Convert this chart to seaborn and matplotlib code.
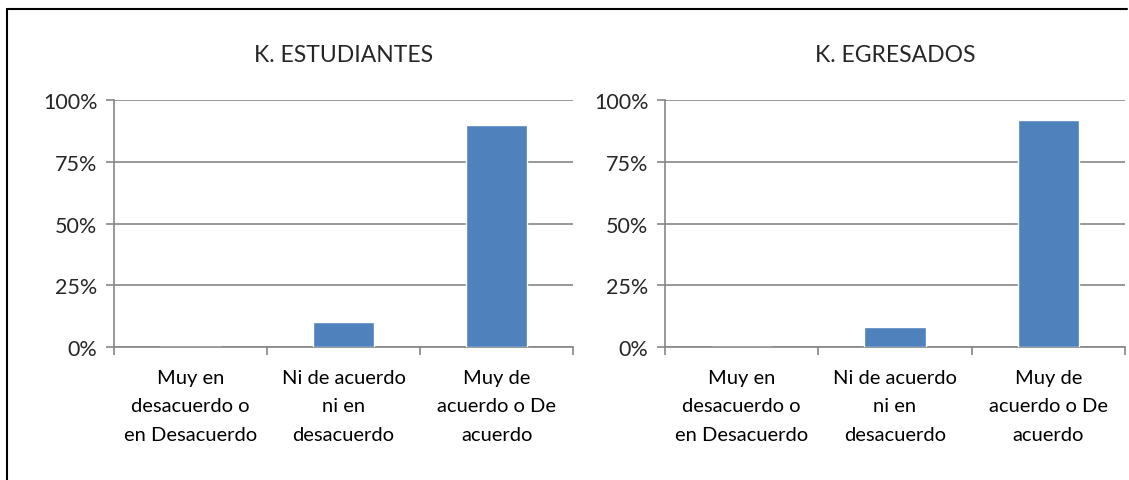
import numpy as np
import matplotlib.pyplot as plt
import seaborn as sns
import pandas as pd
from matplotlib.lines import Line2D
from matplotlib.ticker import PercentFormatter

categorias = ['Muy en\ndesacuerdo o\nen Desacuerdo', 'Ni de acuerdo\nni en\ndesacuerdo', 'Muy de\nacuerdo o De\nacuerdo']
estudiantes = [0, 10, 90]
egresados = [0, 8, 92]
titulos = ['K. ESTUDIANTES', 'K. EGRESADOS']

sns.set_style('white')
plt.rcParams['font.family'] = ['Lato', 'DejaVu Sans']

gris = '#868686'
azul = '#4F81BD'

fig = plt.figure(figsize=(11.29, 4.81), dpi=100)
ax1 = fig.add_axes([0.101, 0.2765, 0.4066, 0.5135])
ax2 = fig.add_axes([0.589, 0.2765, 0.4074, 0.5135])

for ax, valores, titulo in zip([ax1, ax2], [estudiantes, egresados], titulos):
    df = pd.DataFrame({'cat': categorias, 'val': valores})
    sns.barplot(data=df, x='cat', y='val', color=azul, width=0.4, saturation=1, ax=ax, zorder=3)
    ax.set_xlim(-0.5, 2.5)
    ax.set_ylim(0, 100)
    ax.set_yticks([0, 25, 50, 75, 100])
    ax.yaxis.set_major_formatter(PercentFormatter(decimals=0))
    ax.grid(axis='y', color=gris, linewidth=1.2, zorder=0)
    ax.set_xticks(np.arange(-0.5, 3, 1), minor=True)
    ax.tick_params(axis='x', which='major', length=0, pad=16, labelsize=14.5, colors='black')
    ax.tick_params(axis='x', which='minor', length=6, width=1.2, color=gris, direction='out', bottom=True)
    ax.tick_params(axis='y', length=6, width=1.2, color=gris, direction='out', left=True, labelsize=15.5, pad=6)
    ax.set_xlabel('')
    ax.set_ylabel('')
    for lab in ax.get_xticklabels():
        lab.set_multialignment('center')
        lab.set_linespacing(1.8)
    for s in ['top', 'right']:
        ax.spines[s].set_visible(False)
    for s in ['left', 'bottom']:
        ax.spines[s].set_color(gris)
        ax.spines[s].set_linewidth(1.2)
    ax.set_title(titulo, fontsize=16.5, pad=28)

fig.add_artist(Line2D([7 / 1129, 7 / 1129], [0, 1 - 10 / 481], color='black', linewidth=1.5))
fig.add_artist(Line2D([7 / 1129, 1127 / 1129], [1 - 10 / 481, 1 - 10 / 481], color='black', linewidth=1.5))

fig.savefig('out.png', dpi=100, facecolor='white')
